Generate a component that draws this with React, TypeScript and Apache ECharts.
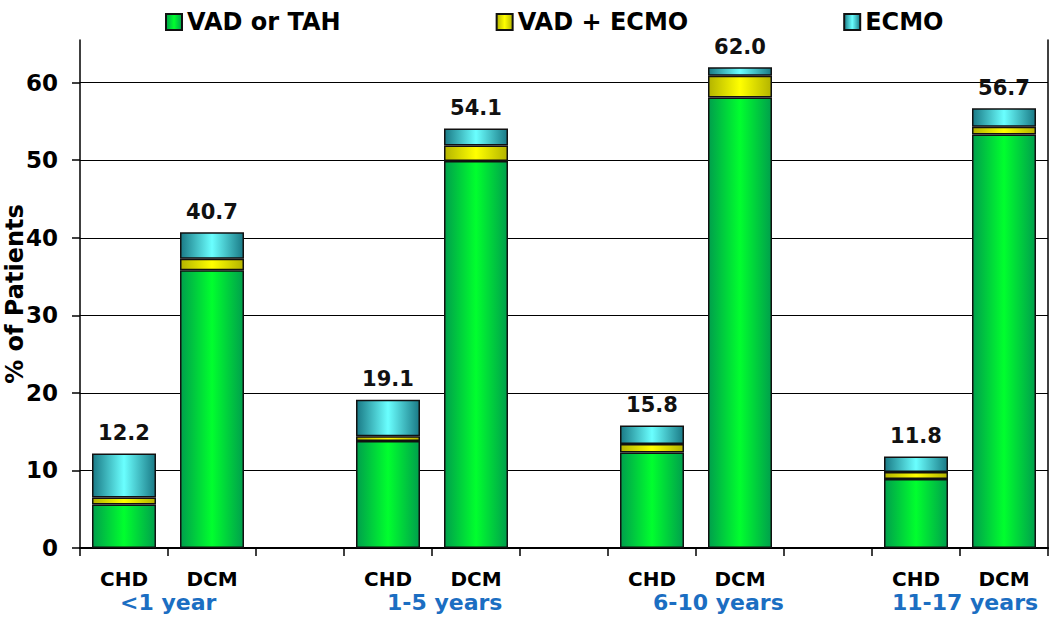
import React, { useEffect, useRef } from "react";
import * as echarts from "echarts";

const slots = ["CHD", "DCM", "", "CHD", "DCM", "", "CHD", "DCM", "", "CHD", "DCM"];
const groupLabels = ["<1 year", "", "", "1-5 years", "", "", "6-10 years", "", "", "11-17 years", ""];
const vadTah = [5.6, 35.8, null, 13.8, 49.9, null, 12.3, 58.1, null, 8.9, 53.3];
const vadEcmo = [0.9, 1.5, null, 0.6, 2.0, null, 1.1, 2.8, null, 0.9, 1.0];
const ecmo = [5.7, 3.4, null, 4.7, 2.2, null, 2.4, 1.1, null, 2.0, 2.4];
const totals = ["12.2", "40.7", "", "19.1", "54.1", "", "15.8", "62.0", "", "11.8", "56.7"];
const yTicks = [0, 10, 20, 30, 40, 50, 60];
const groupShift = [-4, 0, 0, -1, 0, 0, 1, 0, 0, -24, 0];

const FONT = "'DejaVu Sans', 'Liberation Sans', Arial, sans-serif";

function grad(edge1: string, mid: string, edge2: string) {
  return new echarts.graphic.LinearGradient(0, 0, 1, 0, [
    { offset: 0, color: edge1 },
    { offset: 0.5, color: mid },
    { offset: 1, color: edge2 },
  ]);
}

export default function App() {
  const ref = useRef<HTMLDivElement>(null);
  useEffect(() => {
    if (!ref.current) return;
    const chart = echarts.init(ref.current, undefined, { renderer: "svg" });
    const border = { borderColor: "#111", borderWidth: 1.5 };
    chart.setOption({
      animation: false,
      backgroundColor: "#fff",
      grid: { left: 80, right: 2, top: 40, bottom: 73, containLabel: false, outerBoundsMode: "none" },
      legend: {
        data: ["VAD or TAH", "VAD + ECMO", "ECMO"],
        top: 5,
        left: 160,
        itemWidth: 16,
        itemHeight: 16,
        itemGap: 155,
        icon: "rect",
        textStyle: { fontFamily: FONT, fontWeight: "bold", fontSize: 24, color: "#000" },
      },
      xAxis: [
        {
          type: "category",
          data: slots,
          position: "bottom",
          axisLine: { show: true, lineStyle: { color: "#000", width: 2 } },
          axisTick: { show: true, length: 8, interval: 0, lineStyle: { color: "#000", width: 1.5 } },
          axisLabel: {
            interval: 0,
            margin: 21,
            fontFamily: FONT,
            fontWeight: "bold",
            fontSize: 20,
            color: "#000",
          },
          splitLine: { show: false },
        },
        {
          type: "category",
          data: groupLabels.map((g, i) => ({
            value: g,
            textStyle: { align: "left", padding: [0, 0, 0, groupShift[i]] },
          })),
          position: "bottom",
          axisLine: { show: false },
          axisTick: { show: false },
          axisLabel: {
            interval: 0,
            margin: 43,
            fontFamily: FONT,
            fontWeight: "bold",
            fontSize: 22,
            color: "#1b6ec2",
          },
          splitLine: { show: false },
        },
      ],
      yAxis: [
        {
          type: "value",
          min: 0,
          max: 65.5,
          interval: 10,
          name: "% of Patients",
          nameLocation: "middle",
          nameGap: 53,
          nameMoveOverlap: false,
          nameTextStyle: { fontFamily: FONT, fontWeight: "bold", fontSize: 24, color: "#000" },
          axisLine: { show: true, lineStyle: { color: "#000", width: 1.5 } },
          axisTick: { show: true, length: 8, customValues: yTicks, lineStyle: { color: "#000", width: 1.5 } },
          axisLabel: {
            customValues: yTicks,
            margin: 22,
            fontFamily: FONT,
            fontWeight: "bold",
            fontSize: 23,
            color: "#000",
          },
          splitLine: { show: true, lineStyle: { color: "#000", width: 1 } },
        },
        {
          type: "value",
          min: 0,
          max: 65.5,
          interval: 10,
          position: "right",
          axisLine: { show: true, lineStyle: { color: "#000", width: 1.5 } },
          axisTick: { show: false },
          axisLabel: { show: false },
          splitLine: { show: false },
        },
      ],
      series: [
        {
          name: "VAD or TAH",
          type: "bar",
          stack: "total",
          barWidth: 64,
          data: vadTah,
          itemStyle: { color: grad("#00a04c", "#00ff2e", "#00a04c"), ...border },
        },
        {
          name: "VAD + ECMO",
          type: "bar",
          stack: "total",
          barWidth: 64,
          data: vadEcmo,
          itemStyle: { color: grad("#b4b400", "#ffff00", "#b4b400"), ...border },
        },
        {
          name: "ECMO",
          type: "bar",
          stack: "total",
          barWidth: 64,
          data: ecmo,
          itemStyle: { color: grad("#1a7a86", "#6affff", "#1a7a86"), ...border },
          label: {
            show: true,
            position: "top",
            distance: 10,
            formatter: (p: any) => totals[p.dataIndex],
            fontFamily: FONT,
            fontWeight: "bold",
            fontSize: 21,
            color: "#111",
          },
        },
      ],
    });
    return () => chart.dispose();
  }, []);
  return (
    <div
      ref={ref}
      style={{ position: "fixed", left: 0, top: 0, width: 1050, height: 621, background: "#fff" }}
    />
  );
}
